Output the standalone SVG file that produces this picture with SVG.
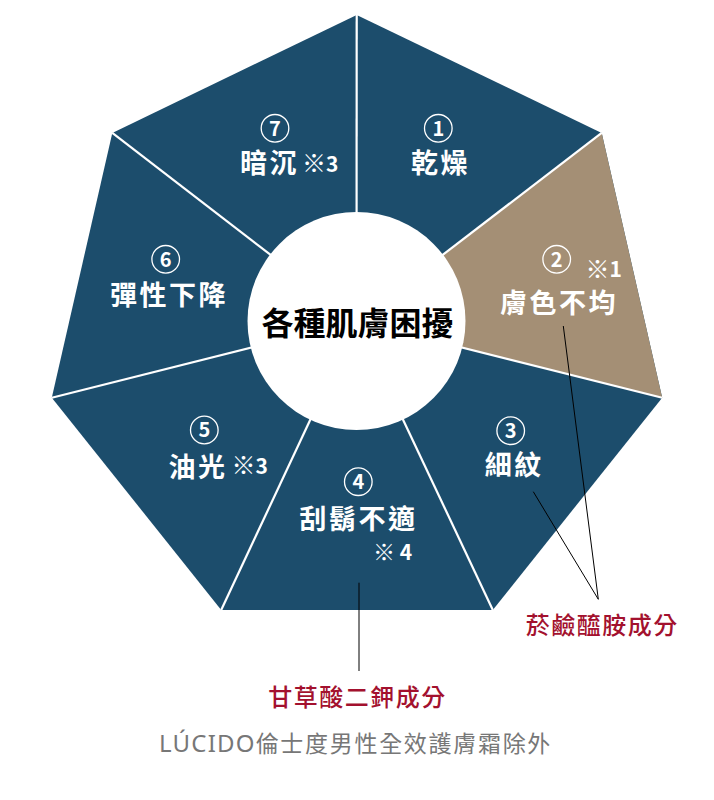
<svg xmlns="http://www.w3.org/2000/svg" width="714" height="800" viewBox="0 0 714 800">
<style>
.lbl{font-family:"Noto Sans CJK TC","Noto Sans CJK SC",sans-serif;font-weight:700;font-size:27px;fill:#ffffff;text-anchor:middle;letter-spacing:2.5px}
.note{font-family:"Noto Sans CJK TC","Noto Sans CJK SC",sans-serif;font-weight:700;font-size:21px;fill:#ffffff}
.mark{font-size:24px}
.num{font-family:"Noto Sans CJK TC","Noto Sans CJK SC",sans-serif;font-weight:700;font-size:20px;fill:#ffffff;text-anchor:middle}
.ring{fill:none;stroke:#ffffff;stroke-width:1.3}
.div{stroke:#ffffff;stroke-width:2.2;fill:none}
.lead{stroke:#000000;stroke-width:1;fill:none}
.red{font-family:"Noto Sans CJK TC","Noto Sans CJK SC",sans-serif;font-weight:500;font-size:24px;fill:#a3112e;text-anchor:middle;letter-spacing:1.5px}
</style>
<rect width="714" height="800" fill="#ffffff"/>
<g id="heptagon">
<polygon points="356.7,15 601.7,132.9 662.2,397.7 492.8,610 221.2,610 51.8,397.7 112.3,132.9" fill="#1c4d6c"/>
<polygon id="wedge-2" points="356.5,321 601.7,132.9 662.2,397.7" fill="#a48f75"/>
</g>
<g id="dividers">
<line class="div" x1="356.5" y1="321" x2="356.7" y2="15"/>
<line class="div" x1="356.5" y1="321" x2="601.7" y2="132.9"/>
<line class="div" x1="356.5" y1="321" x2="662.2" y2="397.7"/>
<line class="div" x1="356.5" y1="321" x2="492.8" y2="610"/>
<line class="div" x1="356.5" y1="321" x2="221.2" y2="610"/>
<line class="div" x1="356.5" y1="321" x2="51.8" y2="397.7"/>
<line class="div" x1="356.5" y1="321" x2="112.3" y2="132.9"/>
</g>
<g id="center">
<circle cx="356.5" cy="321" r="109" fill="#ffffff"/>
<text x="357.5" y="334.5" font-family="Noto Sans CJK TC, Noto Sans CJK SC, sans-serif" font-weight="700" font-size="32" fill="#000000" text-anchor="middle">各種肌膚困擾</text>
</g>
<g id="node-1">
<circle class="ring" cx="438.3" cy="128.3" r="13.8"/>
<text class="num" x="438.3" y="135.5">1</text>
<text class="lbl" x="440.5" y="173">乾燥</text>
</g>
<g id="node-2">
<circle class="ring" cx="556.7" cy="259.3" r="13.8"/>
<text class="num" x="556.7" y="266.5">2</text>
<text class="note" x="585.5" y="277"><tspan class="mark" dy="0.8">※</tspan><tspan dy="-0.8">1</tspan></text>
<text class="lbl" x="559" y="313">膚色不均</text>
</g>
<g id="node-3">
<circle class="ring" cx="510.7" cy="430.7" r="13.8"/>
<text class="num" x="510.7" y="437.9">3</text>
<text class="lbl" x="514.3" y="475">細紋</text>
</g>
<g id="node-4">
<circle class="ring" cx="358.3" cy="481.7" r="13.8"/>
<text class="num" x="358.3" y="488.9">4</text>
<text class="lbl" x="358.5" y="529">刮鬍不適</text>
<text class="note" x="373" y="559.5" font-size="21"><tspan font-size="22" dy="0.5">※</tspan><tspan dy="-0.5"> 4</tspan></text>
</g>
<g id="node-5">
<circle class="ring" cx="204.3" cy="430" r="13.8"/>
<text class="num" x="204.3" y="437.2">5</text>
<text class="lbl" x="198" y="476.5">油光</text>
<text class="note" x="231.5" y="473.5"><tspan class="mark" dy="0.8">※</tspan><tspan dy="-0.8">3</tspan></text>
</g>
<g id="node-6">
<circle class="ring" cx="165.7" cy="259.3" r="13.8"/>
<text class="num" x="165.7" y="266.5">6</text>
<text class="lbl" x="169" y="305">彈性下降</text>
</g>
<g id="node-7">
<circle class="ring" cx="275" cy="128.3" r="13.8"/>
<text class="num" x="275" y="135.5">7</text>
<text class="lbl" x="269.5" y="173">暗沉</text>
<text class="note" x="302" y="171.5"><tspan class="mark" dy="0.8">※</tspan><tspan dy="-0.8">3</tspan></text>
</g>
<g id="connectors">
<line class="lead" x1="563.3" y1="326" x2="598.3" y2="599.3"/>
<line class="lead" x1="533.3" y1="491.7" x2="598.3" y2="599.3"/>
<line class="lead" x1="359" y1="582.7" x2="359" y2="671"/>
</g>
<g id="ingredient-niacinamide">
<text class="red" x="602.3" y="633.5">菸鹼醯胺成分</text>
</g>
<g id="ingredient-glycyrrhizinate">
<text class="red" x="357.5" y="705.5">甘草酸二鉀成分</text>
</g>
<g id="footnote">
<text x="159" y="751.7" font-family="Noto Sans CJK TC, Noto Sans CJK SC, sans-serif" font-size="23" fill="#777777"><tspan font-family="Noto Sans, Noto Sans CJK TC, sans-serif" font-size="24" letter-spacing="1.2">LÚCIDO</tspan><tspan letter-spacing="1.7">倫士度男性全效護膚霜除外</tspan></text>
</g>
</svg>
